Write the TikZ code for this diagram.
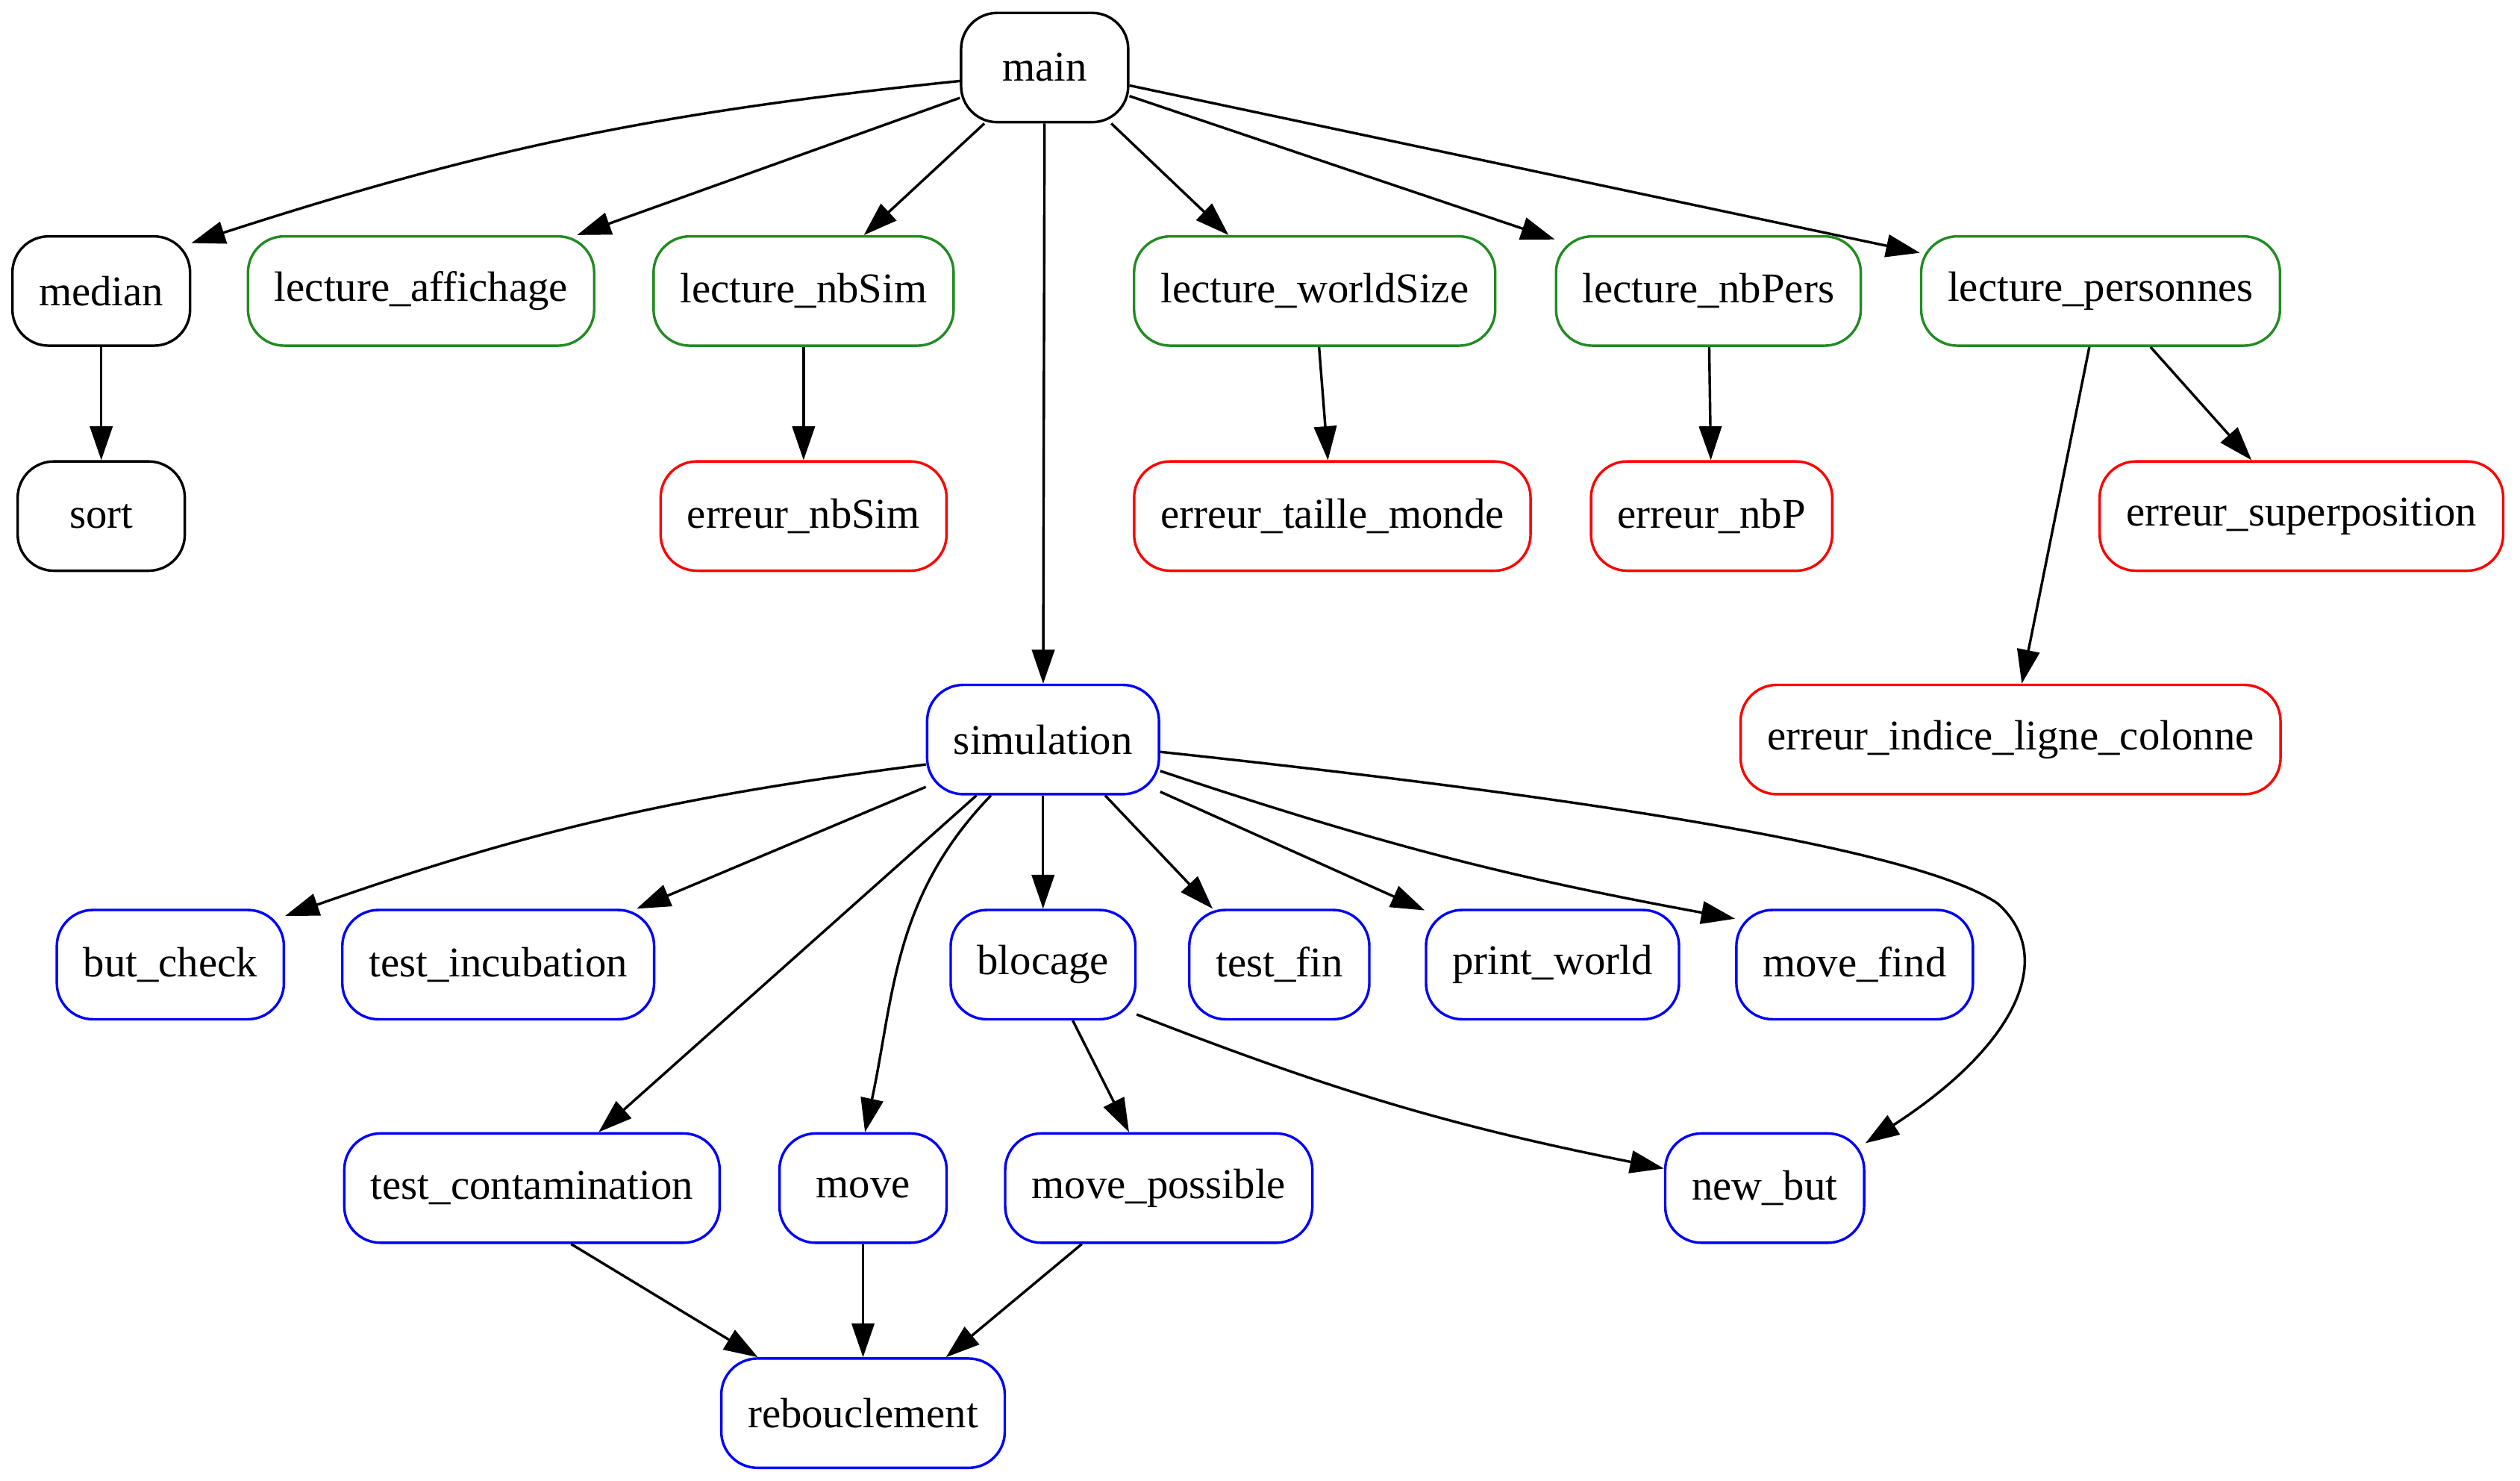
\documentclass[tikz,border=0pt]{standalone}
\usepackage{fontspec}
\setmainfont{Liberation Serif}
\usetikzlibrary{arrows.meta}
\definecolor{fgreen}{HTML}{228B22}

\begin{document}
\begin{tikzpicture}[x=0.02cm,y=-0.02cm,line width=0.9pt,>={Triangle[length=12pt,width=8pt]},
    fn/.style={draw,rounded corners=0.45cm,minimum width=2.08cm,minimum height=1.36cm,
        inner xsep=0.33cm,font=\fontsize{15}{18}\selectfont},
    lect/.style={fn,draw=fgreen},
    err/.style={fn,draw=red},
    sim/.style={fn,draw=blue}]
    \useasboundingbox (0,0) rectangle (1568,921);

    % top rows
    \node[fn] (main) at (650,42) {main};
    \node[fn] (median) at (63,181) {median};
    \node[fn] (sort) at (63,321) {sort};
    \node[lect] (laff) at (262,181) {lecture\_affichage};
    \node[lect] (lsim) at (500,181) {lecture\_nbSim};
    \node[lect] (lws) at (818,181) {lecture\_worldSize};
    \node[lect] (lnbp) at (1063,181) {lecture\_nbPers};
    \node[lect] (lpers) at (1307,181) {lecture\_personnes};
    \node[err] (esim) at (500,321) {erreur\_nbSim};
    \node[err] (etaille) at (829,321) {erreur\_taille\_monde};
    \node[err] (enbp) at (1065,321) {erreur\_nbP};
    \node[err] (esup) at (1432,321) {erreur\_superposition};
    \node[err] (eind) at (1251,460) {erreur\_indice\_ligne\_colonne};

    % simulation part
    \node[sim] (simu) at (649,460) {simulation};
    \node[sim] (butc) at (106,600) {but\_check};
    \node[sim] (tinc) at (310,600) {test\_incubation};
    \node[sim] (bloc) at (649,600) {blocage};
    \node[sim] (tfin) at (796,600) {test\_fin};
    \node[sim] (pworld) at (966,600) {print\_world};
    \node[sim] (mfind) at (1154,600) {move\_find};
    \node[sim] (tcont) at (331,739) {test\_contamination};
    \node[sim] (move) at (537,739) {move};
    \node[sim] (mposs) at (721,739) {move\_possible};
    \node[sim] (newbut) at (1098,739) {new\_but};
    \node[sim] (reb) at (537,879) {rebouclement};

    \draw[->] (main.189) to[bend right=6] (median.28);
    \draw[->] (main) -- (laff);
    \draw[->] (main) -- (lsim);
    \draw[->] (main) -- (simu);
    \draw[->] (main.320) -- (lws.147);
    \draw[->] (main) -- (lnbp);
    \draw[->] (main) -- (lpers);
    \draw[->] (median) -- (sort);
    \draw[->] (lsim) -- (esim);
    \draw[->] (lws) -- (etaille);
    \draw[->] (lnbp) -- (enbp);
    \draw[->] (lpers) -- (esup);
    \draw[->] (lpers) -- (eind);

    \draw[->] (simu.192) to[bend right=6] (butc.23);
    \draw[->] (simu.202) -- (tinc.22);
    \draw[->] (simu.220) -- (tcont.40);
    \draw[->] (simu.227) to[out=-134,in=78] (move.88);
    \draw[->] (simu) -- (bloc);
    \draw[->] (simu.318) -- (tfin.140);
    \draw[->] (simu.336) -- (pworld.157);
    \draw[->] (simu.345) to[bend right=4] (mfind.159);
    \draw[->] (simu.354) .. controls (950,492) and (1190,525) .. (1243,562)
        .. controls (1280,595) and (1255,650) .. (newbut.24);
    \draw[->] (bloc.298) -- (mposs.118);
    \draw[->] (bloc.332) to[bend right=5] (newbut.169);
    \draw[->] (tcont.305) -- (reb.152);
    \draw[->] (move) -- (reb);
    \draw[->] (mposs.216) -- (reb.34);
\end{tikzpicture}
\end{document}
